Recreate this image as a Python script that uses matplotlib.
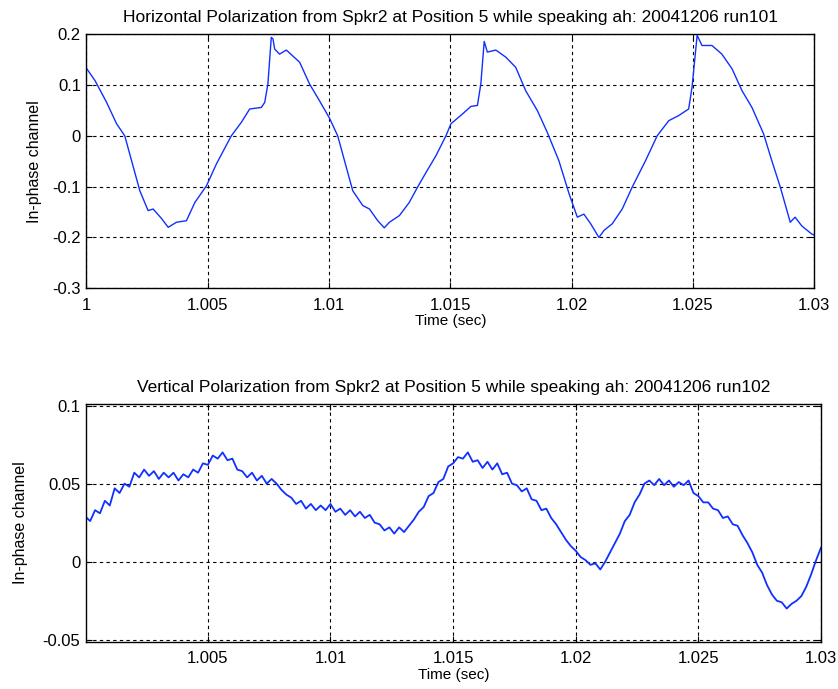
import numpy as np
import matplotlib.pyplot as plt
from matplotlib.ticker import FuncFormatter

plt.rcParams['font.family'] = ['Liberation Sans', 'DejaVu Sans']

# time offsets in ms after t = 1 s, and in-phase values
h_ms = [0.0, 0.35, 0.83, 1.24, 1.58, 1.86, 2.2, 2.54, 2.75, 3.1, 3.37, 3.71, 4.12,
        4.47, 4.95, 5.36, 5.97, 6.39, 6.73, 7.21, 7.35, 7.48, 7.62, 7.69, 7.76,
        7.96, 8.24, 8.79, 9.2, 9.61, 10.02, 10.36, 10.64, 10.98, 11.39, 11.67,
        12.01, 12.28, 12.49, 12.9, 13.31, 13.65, 14.0, 14.41, 14.82, 15.03, 15.5,
        15.85, 16.12, 16.26, 16.4, 16.53, 16.88, 17.29, 17.7, 18.11, 18.59, 19.0,
        19.48, 19.9, 20.24, 20.51, 20.79, 21.13, 21.34, 21.68, 22.09, 22.5, 23.05,
        23.53, 24.01, 24.42, 24.83, 24.97, 25.18, 25.38, 25.79, 26.2, 26.62, 27.03,
        27.44, 27.92, 28.26, 28.61, 29.02, 29.22, 29.49, 29.9, 30.0]
h_val = [0.133, 0.109, 0.066, 0.024, 0.0, -0.049, -0.108, -0.147, -0.144, -0.163,
         -0.180, -0.170, -0.167, -0.131, -0.098, -0.055, 0.0, 0.027, 0.053, 0.056,
         0.066, 0.102, 0.194, 0.191, 0.171, 0.161, 0.169, 0.145, 0.102, 0.069,
         0.035, 0.0, -0.049, -0.108, -0.137, -0.144, -0.167, -0.181, -0.170,
         -0.157, -0.131, -0.101, -0.072, -0.039, 0.0, 0.024, 0.043, 0.058, 0.060,
         0.102, 0.186, 0.165, 0.169, 0.155, 0.135, 0.089, 0.050, 0.007, -0.049,
         -0.114, -0.160, -0.154, -0.173, -0.200, -0.186, -0.173, -0.144, -0.101,
         -0.049, 0.0, 0.030, 0.040, 0.053, 0.096, 0.198, 0.178, 0.178, 0.161,
         0.132, 0.089, 0.056, 0.004, -0.049, -0.101, -0.170, -0.160, -0.177,
         -0.193, -0.195]

v_ms = [round(0.2 * i, 1) for i in range(151)]
v_val = [0.029, 0.026, 0.033, 0.031, 0.039, 0.036, 0.047, 0.044, 0.050, 0.048,
         0.057, 0.054, 0.059, 0.055, 0.058, 0.053, 0.057, 0.054, 0.057, 0.052,
         0.056, 0.054, 0.059, 0.057, 0.063, 0.062, 0.068, 0.066, 0.070, 0.065,
         0.066, 0.059, 0.058, 0.054, 0.057, 0.052, 0.055, 0.050, 0.053, 0.050,
         0.046, 0.043, 0.041, 0.037, 0.039, 0.034, 0.037, 0.033, 0.036, 0.033,
         0.037, 0.032, 0.034, 0.030, 0.033, 0.029, 0.032, 0.028, 0.030, 0.025,
         0.024, 0.020, 0.022, 0.018, 0.022, 0.019, 0.023, 0.027, 0.032, 0.035,
         0.042, 0.044, 0.051, 0.053, 0.061, 0.063, 0.067, 0.066, 0.070, 0.064,
         0.065, 0.060, 0.064, 0.059, 0.063, 0.056, 0.057, 0.050, 0.049, 0.045,
         0.047, 0.040, 0.039, 0.033, 0.034, 0.028, 0.024, 0.019, 0.014, 0.010,
         0.007, 0.003, 0.001, -0.002, -0.001, -0.005, 0.000, 0.006, 0.012, 0.018,
         0.026, 0.030, 0.038, 0.043, 0.050, 0.052, 0.049, 0.053, 0.049, 0.052,
         0.048, 0.051, 0.049, 0.052, 0.044, 0.042, 0.038, 0.038, 0.034, 0.033,
         0.028, 0.029, 0.024, 0.023, 0.017, 0.012, 0.006, -0.002, -0.007, -0.015,
         -0.021, -0.025, -0.026, -0.030, -0.027, -0.025, -0.022, -0.016, -0.008,
         0.001, 0.009]

h_xticks = [1.0, 1.005, 1.01, 1.015, 1.02, 1.025, 1.03]
h_yticks = [-0.3, -0.2, -0.1, 0.0, 0.1, 0.2]
v_xticks = [1.005, 1.01, 1.015, 1.02, 1.025, 1.03]
v_yticks = [-0.05, 0.0, 0.05, 0.1]

fmt = FuncFormatter(lambda v, p: '%g' % round(v, 6))
LINE = '#1030ff'


def style(ax, xt, yt):
    ax.set_xticks(xt)
    ax.set_yticks(yt)
    ax.xaxis.set_major_formatter(fmt)
    ax.yaxis.set_major_formatter(fmt)
    ax.grid(True, color='black', linestyle=(0, (3, 3)), linewidth=0.8)
    ax.tick_params(direction='in', top=True, right=True, labelsize=12, length=4)
    ax.tick_params(axis='x', pad=7)
    ax.tick_params(axis='y', pad=4)
    for s in ax.spines.values():
        s.set_linewidth(1.0)


fig = plt.figure(figsize=(8.38, 6.89), dpi=100)

ax1 = fig.add_axes([0.1032, 0.5816, 0.8682, 0.3686])
ax1.plot(1 + np.array(h_ms) / 1000, h_val, color=LINE, linewidth=1.0)
ax1.set_xlim(1.0, 1.03)
ax1.set_ylim(-0.3, 0.2)
style(ax1, h_xticks, h_yticks)
ax1.set_title('Horizontal Polarization from Spkr2 at Position 5 while speaking ah: 20041206 run101',
              fontsize=12.5, pad=9)
ax1.set_xlabel('Time (sec)', fontsize=11, labelpad=1)
ax1.set_ylabel('In-phase channel', fontsize=11.5)
ax1.yaxis.set_label_coords(-0.061, 0.5)

ax2 = fig.add_axes([0.1026, 0.0687, 0.8777, 0.3445])
ax2.plot(1 + np.array(v_ms) / 1000, v_val, color=LINE, linewidth=1.3)
ax2.set_xlim(1.00003, 1.03002)
ax2.set_ylim(-0.0512, 0.1008)
style(ax2, v_xticks, v_yticks)
ax2.set_title('Vertical Polarization from Spkr2 at Position 5 while speaking ah: 20041206 run102',
              fontsize=12.5, pad=9)
ax2.set_xlabel('Time (sec)', fontsize=11, labelpad=1)
ax2.set_ylabel('In-phase channel', fontsize=11.5)
ax2.yaxis.set_label_coords(-0.079, 0.5)

fig.savefig('out.png', dpi=100)
